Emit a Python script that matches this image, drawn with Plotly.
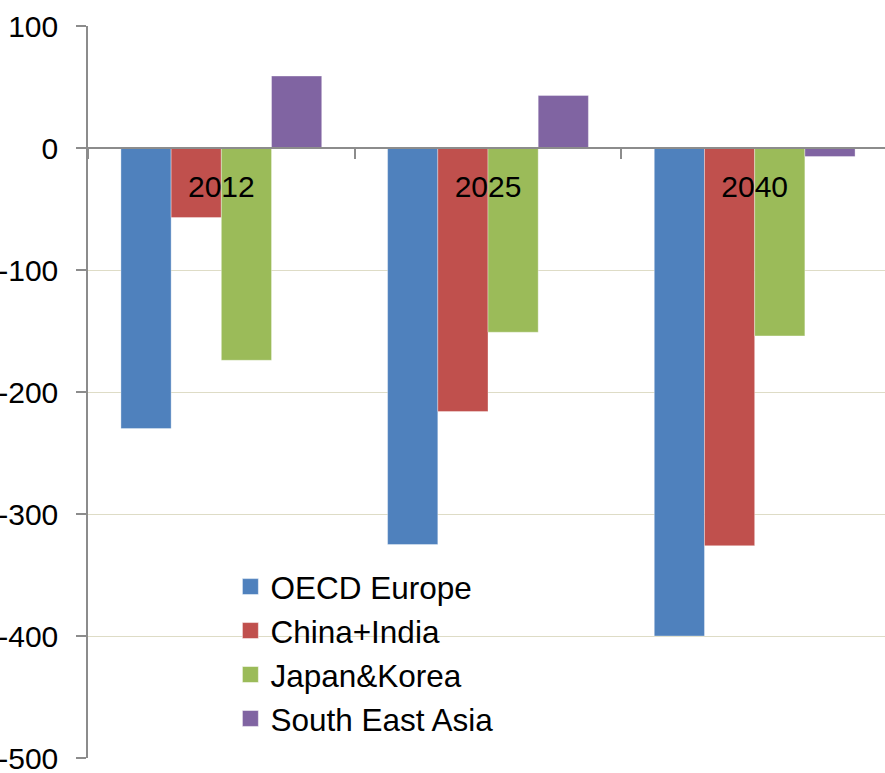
import plotly.graph_objects as go

years = ["2012", "2025", "2040"]
series_names = ["OECD Europe", "China+India", "Japan&Korea", "South East Asia"]
oecd_europe = [-230, -325, -400]
china_india = [-57, -216, -326]
japan_korea = [-174, -151, -154]
south_east_asia = [59, 43, -7]
y_ticks = [100, 0, -100, -200, -300, -400, -500]
y_tick_labels = ["100", "0", "-100", "-200", "-300", "-400", "-500"]

colors = ["#4F81BD", "#C0504D", "#9BBB59", "#8064A2"]
values = [oecd_europe, china_india, japan_korea, south_east_asia]

FONT = "Liberation Sans, Arial, sans-serif"

fig = go.Figure()
for name, vals, col in zip(series_names, values, colors):
    fig.add_trace(go.Bar(
        x=years, y=vals, name=name, showlegend=False,
        marker=dict(color=col, line=dict(color="rgba(255,255,255,0.35)", width=1)),
    ))
# legend entries with larger square swatches
for name, col in zip(series_names, colors):
    fig.add_trace(go.Scatter(
        x=[None], y=[None], name=name, mode="markers",
        marker=dict(symbol="square", size=18, color=col,
                    line=dict(color="rgba(255,255,255,0.5)", width=1)),
        showlegend=True, hoverinfo="skip",
    ))

fig.update_layout(
    width=888, height=773,
    margin=dict(l=88, r=0, t=26, b=15),
    paper_bgcolor="white", plot_bgcolor="white",
    barmode="group", bargap=0.247, bargroupgap=0,
    font=dict(family=FONT, size=30, color="#000000"),
    showlegend=True,
    legend=dict(
        x=0.178, y=0.271, xanchor="left", yanchor="top",
        bgcolor="rgba(0,0,0,0)", font=dict(size=31.5, color="#000000"),
        tracegroupgap=0, traceorder="normal", itemsizing="trace",
    ),
)

fig.update_yaxes(
    range=[-500, 100], tickvals=y_ticks, ticktext=y_tick_labels,
    showgrid=True, gridcolor="#DEDCC6", gridwidth=1,
    showline=True, linecolor="#8C8C8C", linewidth=1.5,
    ticks="outside", ticklen=10, tickcolor="#8C8C8C", tickwidth=1.5,
    ticklabelstandoff=12, ticklabeloverflow="allow",
    zeroline=False, automargin=False,
    tickfont=dict(size=30, color="#000000"),
)

fig.update_xaxes(
    anchor="free", position=500 / 600,
    showline=True, linecolor="#8C8C8C", linewidth=1.5,
    ticks="outside", ticklen=10, tickcolor="#8C8C8C", tickwidth=1.5,
    tickson="boundaries", showgrid=False,
    ticklabelstandoff=12, automargin=False, ticklabeloverflow="allow",
    tickfont=dict(size=30, color="#000000"),
)

fig.write_html(
    "out.html",
    config={"displayModeBar": False},
    post_script="document.body.style.margin='0';document.body.style.overflow='hidden';",
)
